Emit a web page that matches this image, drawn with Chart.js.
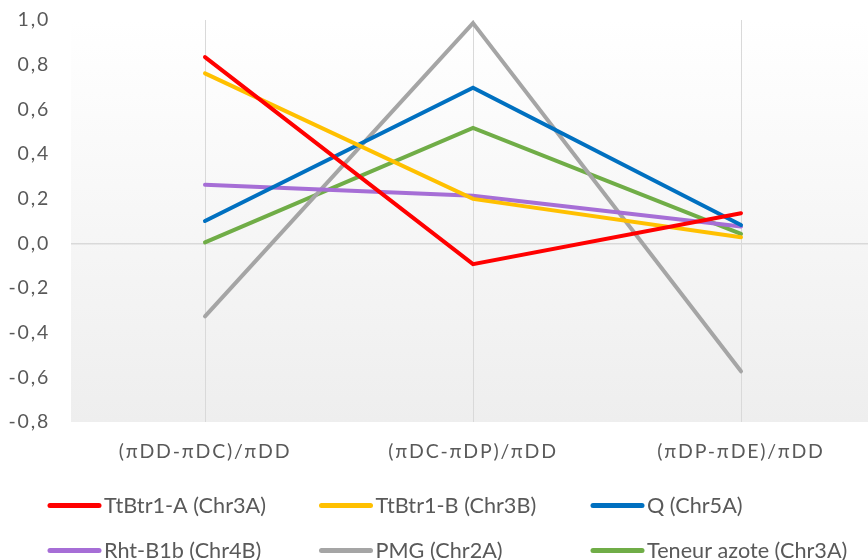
<!DOCTYPE html>
<html>
<head>
<meta charset="utf-8">
<script src="https://cdn.jsdelivr.net/npm/chart.js@4/dist/chart.umd.min.js"></script>
<style>
  html, body { margin: 0; padding: 0; background: #fff; overflow: hidden; }
  #wrap { width: 876px; height: 560px; }
</style>
</head>
<body>
<div id="wrap"><canvas id="c" width="876" height="560"></canvas></div>
<script>
const categories = ["(πDD-πDC)/πDD", "(πDC-πDP)/πDD", "(πDP-πDE)/πDD"];
const seriesNames = ["TtBtr1-A (Chr3A)", "TtBtr1-B (Chr3B)", "Q (Chr5A)", "Rht-B1b (Chr4B)", "PMG (Chr2A)", "Teneur azote (Chr3A)"];
const ttbtr1A = [0.834, -0.093, 0.135];
const ttbtr1B = [0.761, 0.199, 0.027];
const qChr5A = [0.100, 0.697, 0.082];
const rhtB1b = [0.262, 0.213, 0.075];
const pmg = [-0.327, 0.986, -0.573];
const teneurAzote = [0.004, 0.517, 0.042];
const yTicks = [-0.8, -0.6, -0.4, -0.2, 0.0, 0.2, 0.4, 0.6, 0.8, 1.0];
const seriesColors = ["#FF0000", "#FFC000", "#0070C0", "#A66ED6", "#A5A5A5", "#70AD47"];

const seriesValues = [ttbtr1A, ttbtr1B, qChr5A, rhtB1b, pmg, teneurAzote];
const FONT = "Lato, 'Open Sans', 'DejaVu Sans', sans-serif";

const bgPlugin = {
  id: 'plotBg',
  beforeDraw(chart) {
    const { ctx, chartArea: a } = chart;
    const g = ctx.createLinearGradient(0, a.top, 0, a.bottom);
    g.addColorStop(0, '#ffffff');
    g.addColorStop(1, '#eeeeee');
    ctx.save();
    ctx.fillStyle = g;
    ctx.fillRect(a.left, a.top, a.right - a.left, a.bottom - a.top);
    ctx.restore();
    ctx.letterSpacing = '1.8px';
  },
  beforeDatasetsDraw(chart) {
    chart.ctx.letterSpacing = '0px';
  }
};

const legendPlugin = {
  id: 'customLegend',
  afterDraw(chart) {
    const ctx = chart.ctx;
    const ds = chart.data.datasets;
    ctx.save();
    ctx.letterSpacing = '0px';
    ctx.font = "22px " + FONT;
    ctx.textBaseline = 'middle';
    const refW = ctx.measureText(ds[0].label).width;
    const sx = 162 / refW;
    ds.forEach((d, i) => {
      const col = i % 3, row = Math.floor(i / 3);
      const x = 48 + col * 271.5;
      const y = 505.5 + row * 45;
      ctx.strokeStyle = d.borderColor;
      ctx.lineWidth = 5;
      ctx.lineCap = 'round';
      ctx.beginPath();
      ctx.moveTo(x + 2, y);
      ctx.lineTo(x + 51, y);
      ctx.stroke();
      ctx.fillStyle = '#595959';
      ctx.save();
      ctx.translate(x + 56, y);
      ctx.scale(sx, 1);
      ctx.fillText(d.label, 0, 0);
      ctx.restore();
    });
    ctx.restore();
  }
};

new Chart(document.getElementById('c'), {
  type: 'line',
  data: {
    labels: categories,
    datasets: seriesNames.map((n, i) => ({
      label: n,
      data: seriesValues[i],
      borderColor: seriesColors[i],
      backgroundColor: seriesColors[i],
      borderWidth: 4,
      borderCapStyle: 'round',
      borderJoinStyle: 'miter',
      pointRadius: 0,
      tension: 0,
      fill: false
    }))
  },
  options: {
    responsive: false,
    animation: false,
    layout: { padding: { top: 20, right: 1, left: 0, bottom: 0 } },
    plugins: { legend: { display: false }, tooltip: { enabled: false } },
    scales: {
      x: {
        type: 'category',
        offset: true,
        grid: { offset: false, color: '#d9d9d9', lineWidth: 1, drawTicks: false },
        border: { display: false },
        ticks: { color: '#595959', font: { size: 19.5, family: FONT }, padding: 18, maxRotation: 0 },
        afterFit(s) { s.height = 138; }
      },
      y: {
        min: -0.8, max: 1.0,
        afterBuildTicks(s) { s.ticks = yTicks.map(v => ({ value: v })); },
        grid: {
          color: c => (c.tick && Math.abs(c.tick.value) < 1e-9) ? '#d9d9d9' : 'rgba(0,0,0,0)',
          lineWidth: 1.5, drawTicks: false
        },
        border: { display: false },
        ticks: {
          color: '#595959', font: { size: 19.5, family: FONT }, padding: 21,
          callback: v => v.toFixed(1).replace('.', ',')
        },
        afterFit(s) { s.width = 71; s.paddingTop = 0; s.paddingBottom = 0; }
      }
    }
  },
  plugins: [bgPlugin, legendPlugin]
});
</script>
</body>
</html>
